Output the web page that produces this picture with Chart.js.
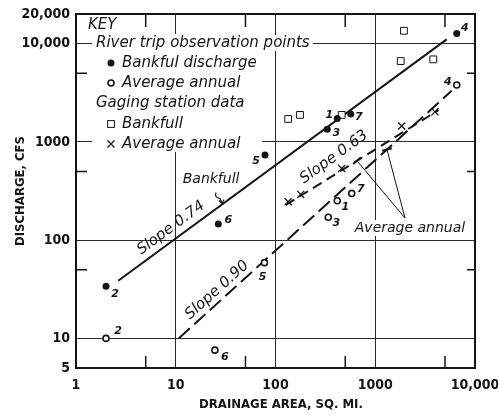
<!DOCTYPE html>
<html><head><meta charset="utf-8">
<script src="https://cdn.jsdelivr.net/npm/chart.js@4.4.1/dist/chart.umd.min.js"></script>
<style>html,body{margin:0;padding:0;background:#fff;}#wrap{width:498px;height:415px;position:relative;}</style>
</head><body><div id="wrap"><canvas id="c" width="498" height="415"></canvas></div>
<script>
// ---- data ----
const riverBankfulX = [2, 26.7, 78.5, 330, 416, 568, 6560];
const riverBankfulY = [34, 146, 734, 1340, 1730, 1920, 12700];
const riverBankfulId = ['2', '6', '5', '3', '1', '7', '4'];
const riverAvgX = [2, 24.7, 77.5, 416, 581, 338, 6560];
const riverAvgY = [10, 7.6, 59, 252, 299, 171, 3790];
const riverAvgId = ['2', '6', '5', '1', '7', '3', '4'];
const gageBankfullX = [1940, 1800, 3820, 134, 176, 461];
const gageBankfullY = [13500, 6640, 6910, 1710, 1880, 1880];
const gageAvgX = [134, 179, 461, 1840, 3970];
const gageAvgY = [246, 292, 537, 1450, 2020];
const bankfullLineX = [2.65, 5200];
const bankfullLineY = [38.6, 11040];
const avg63LineX = [127, 4300];
const avg63LineY = [228, 2100];
const avg90LineX = [10.7, 5840];
const avg90LineY = [10, 3310];
const xTicks = [1, 10, 100, 1000, 10000];
const xTickLabels = ['1', '10', '100', '1000', '10,000'];
const yTicks = [5, 10, 100, 1000, 10000, 20000];
const yTickLabels = ['5', '10', '100', '1000', '10,000', '20,000'];
const xGrid = [10, 100, 1000];
const yGrid = [10, 100, 1000, 10000];
const xMinor = [5, 50, 500, 5000];
const yMinor = [50, 500, 5000];

// ---- styles ----
const INK = '#141414';
const AXFONT = "'DejaVu Sans Condensed','Liberation Sans Narrow','DejaVu Sans'";
const ITFONT = "'DejaVu Sans'";
const riverBankfulLabelOff = [[9, 8], [10, -4], [-9, 6], [9, 4], [-8, -3], [8, 3], [8, -5]];
const riverAvgLabelOff = [[12, -7], [10, 7], [-2, 14], [8, 6], [9, -4], [8, 6], [-9, -3]];

const pts = (xs, ys) => xs.map((v, i) => ({x: v, y: ys[i]}));

function yOnLine(lx, ly, xv) {
  const a = Math.log10(lx[0]), b = Math.log10(lx[1]);
  const c = Math.log10(ly[0]), d = Math.log10(ly[1]);
  return Math.pow(10, c + (Math.log10(xv) - a) * (d - c) / (b - a));
}

const deco = {
  id: 'deco',
  beforeDatasetsDraw(chart) {
    const {ctx, chartArea: a, scales: {x, y}} = chart;
    ctx.save();
    ctx.strokeStyle = INK; ctx.lineWidth = 1.5;
    ctx.beginPath();
    xMinor.forEach(v => {
      const px = x.getPixelForValue(v);
      ctx.moveTo(px, a.bottom); ctx.lineTo(px, a.bottom - 12);
      ctx.moveTo(px, a.top); ctx.lineTo(px, a.top + 13);
    });
    yMinor.forEach(v => {
      const py = y.getPixelForValue(v);
      ctx.moveTo(a.left, py); ctx.lineTo(a.left + 11, py);
      ctx.moveTo(a.right, py); ctx.lineTo(a.right - 8, py);
    });
    ctx.stroke();
    ctx.restore();
  },
  afterDatasetsDraw(chart) {
    const {ctx, chartArea: a, scales: {x, y}} = chart;
    const P = (xv, yv) => [x.getPixelForValue(xv), y.getPixelForValue(yv)];
    ctx.save();
    ctx.fillStyle = INK; ctx.strokeStyle = INK;
    // point number labels
    ctx.font = 'italic bold 11px ' + ITFONT;
    ctx.textAlign = 'center'; ctx.textBaseline = 'middle';
    const m0 = chart.getDatasetMeta(0), m1 = chart.getDatasetMeta(1);
    m0.data.forEach((el, i) => ctx.fillText(riverBankfulId[i], el.x + riverBankfulLabelOff[i][0], el.y + riverBankfulLabelOff[i][1]));
    m1.data.forEach((el, i) => ctx.fillText(riverAvgId[i], el.x + riverAvgLabelOff[i][0], el.y + riverAvgLabelOff[i][1]));

    // slope labels along lines
    const slopeLabel = (txt, xv, yv, deg) => {
      const [px, py] = P(xv, yv);
      ctx.save(); ctx.translate(px, py); ctx.rotate(-deg * Math.PI / 180);
      ctx.font = 'italic 15px ' + ITFONT; ctx.textAlign = 'center'; ctx.textBaseline = 'middle';
      ctx.fillText(txt, 0, 0); ctx.restore();
    };
    slopeLabel('Slope 0.74', 8.96, 133, 36.5);
    slopeLabel('Slope 0.90', 25.9, 31, 42);
    slopeLabel('Slope 0.63', 386, 700, 36);

    // Bankfull note with small arrow
    ctx.font = 'italic 14px ' + ITFONT; ctx.textAlign = 'center'; ctx.textBaseline = 'middle';
    const [bx, by] = P(22.6, 419);
    ctx.fillText('Bankfull', bx, by);
    const [ex, ey] = P(29.1, yOnLine(bankfullLineX, bankfullLineY, 29.1));
    ctx.lineWidth = 1.2;
    ctx.beginPath();
    ctx.moveTo(ex - 6, ey - 12);
    ctx.quadraticCurveTo(ex - 8, ey - 7, ex - 2, ey - 6);
    ctx.lineTo(ex, ey - 1);
    ctx.stroke();
    ctx.beginPath();
    ctx.moveTo(ex - 3, ey - 4); ctx.lineTo(ex, ey - 1); ctx.lineTo(ex + 2, ey - 5);
    ctx.stroke();

    // Average annual note with leaders
    const [ax, ay] = P(2230, 133);
    const leader = (lx, ly, xv) => {
      const [tx, ty] = P(xv, yOnLine(lx, ly, xv));
      const sx = ax - 5, sy = ay - 10;
      ctx.lineWidth = 1;
      ctx.beginPath(); ctx.moveTo(sx, sy); ctx.lineTo(tx, ty); ctx.stroke();
      const ang = Math.atan2(ty - sy, tx - sx) + Math.PI / 2;
      ctx.lineWidth = 2;
      ctx.beginPath();
      ctx.moveTo(tx - 5 * Math.cos(ang), ty - 5 * Math.sin(ang));
      ctx.lineTo(tx + 5 * Math.cos(ang), ty + 5 * Math.sin(ang));
      ctx.stroke();
    };
    leader(avg63LineX, avg63LineY, 656);
    leader(avg90LineX, avg90LineY, 1310);
    ctx.font = 'italic 14px ' + ITFONT;
    const aw = ctx.measureText('Average annual').width;
    ctx.fillStyle = '#fff'; ctx.fillRect(ax - aw / 2 - 2, ay - 8, aw + 4, 16);
    ctx.fillStyle = INK; ctx.fillText('Average annual', ax, ay);

    // KEY
    const L = a.left, T = a.top;
    ctx.fillStyle = '#fff';
    ctx.fillRect(L + 16, T + 20, 170, 118);
    ctx.font = 'italic 15px ' + ITFONT;
    const rw = ctx.measureText('River trip observation points').width;
    ctx.fillRect(L + 17, T + 21, rw + 6, 16);
    ctx.fillStyle = INK; ctx.textAlign = 'left'; ctx.textBaseline = 'middle';
    ctx.fillText('KEY', L + 12, T + 11);
    ctx.fillText('River trip observation points', L + 20, T + 29);
    ctx.fillText('Bankful discharge', L + 46, T + 49);
    ctx.fillText('Average annual', L + 46, T + 69);
    ctx.fillText('Gaging station data', L + 20, T + 89);
    ctx.fillText('Bankfull', L + 46, T + 110);
    ctx.fillText('Average annual', L + 46, T + 130);
    const mx = L + 35;
    ctx.beginPath(); ctx.arc(mx, T + 49, 3.5, 0, 2 * Math.PI); ctx.fill();
    ctx.lineWidth = 1.6;
    ctx.beginPath(); ctx.arc(mx, T + 69, 3, 0, 2 * Math.PI); ctx.stroke();
    ctx.lineWidth = 1;
    ctx.strokeRect(mx - 3.4, T + 110 - 3.4, 6.8, 6.8);
    ctx.lineWidth = 1.2;
    ctx.beginPath();
    ctx.moveTo(mx - 3.5, T + 126.5); ctx.lineTo(mx + 3.5, T + 133.5);
    ctx.moveTo(mx + 3.5, T + 126.5); ctx.lineTo(mx - 3.5, T + 133.5);
    ctx.stroke();
    ctx.restore();
  },
  afterDraw(chart) {
    const {ctx, chartArea: a} = chart;
    ctx.save();
    ctx.strokeStyle = INK; ctx.lineWidth = 2;
    ctx.strokeRect(a.left, a.top, a.right - a.left, a.bottom - a.top);
    ctx.fillStyle = INK;
    ctx.font = 'bold 13px ' + AXFONT;
    ctx.textAlign = 'center'; ctx.textBaseline = 'middle';
    ctx.fillText('DRAINAGE AREA, SQ. MI.', 281, 405);
    ctx.translate(21, (a.top + a.bottom) / 2);
    ctx.rotate(-Math.PI / 2);
    ctx.fillText('DISCHARGE, CFS', 0, 0);
    ctx.restore();
  }
};

const lineDs = (xs, ys, dash) => ({
  type: 'scatter', data: pts(xs, ys), showLine: true, pointRadius: 0,
  borderColor: INK, borderWidth: 2, borderDash: dash, fill: false
});

new Chart(document.getElementById('c'), {
  type: 'scatter',
  data: {
    datasets: [
      {label: 'Bankful discharge', data: pts(riverBankfulX, riverBankfulY), pointStyle: 'circle', pointRadius: 3.5, backgroundColor: INK, borderColor: INK, borderWidth: 0},
      {label: 'Average annual', data: pts(riverAvgX, riverAvgY), pointStyle: 'circle', pointRadius: 3, backgroundColor: '#fff', borderColor: INK, borderWidth: 1.6},
      {label: 'Gaging Bankfull', data: pts(gageBankfullX, gageBankfullY), pointStyle: 'rect', pointRadius: 4.8, backgroundColor: '#fff', borderColor: INK, borderWidth: 1},
      {label: 'Gaging Average annual', data: pts(gageAvgX, gageAvgY), pointStyle: 'crossRot', pointRadius: 5, borderColor: INK, borderWidth: 1.3},
      lineDs(bankfullLineX, bankfullLineY, []),
      lineDs(avg63LineX, avg63LineY, [10, 6]),
      lineDs(avg90LineX, avg90LineY, [15, 6])
    ]
  },
  options: {
    responsive: false, animation: false, events: [],
    layout: {padding: {top: 14, right: 23, bottom: 0, left: 0}},
    plugins: {legend: {display: false}, tooltip: {enabled: false}},
    scales: {
      x: {
        type: 'logarithmic', min: 1, max: 10000, position: 'bottom',
        afterBuildTicks: s => { s.ticks = xTicks.map(v => ({value: v})); },
        afterFit: s => { s.height = 47; s.paddingLeft = 0; s.paddingRight = 0; },
        ticks: {callback: (v, i) => xTickLabels[i], autoSkip: false, maxRotation: 0, padding: 9, color: INK, font: {family: AXFONT, weight: 'bold', size: 14}},
        grid: {drawTicks: false, lineWidth: 1, color: c => (c.tick && xGrid.includes(c.tick.value)) ? '#2a2a2a' : 'rgba(0,0,0,0)'},
        border: {display: false}
      },
      y: {
        type: 'logarithmic', min: 5, max: 20000, position: 'left',
        afterBuildTicks: s => { s.ticks = yTicks.map(v => ({value: v})); },
        afterFit: s => { s.width = 76; s.paddingTop = 0; s.paddingBottom = 0; },
        ticks: {callback: (v, i) => yTickLabels[i], autoSkip: false, padding: 6, color: INK, font: {family: AXFONT, weight: 'bold', size: 14}},
        grid: {drawTicks: false, lineWidth: 1, color: c => (c.tick && yGrid.includes(c.tick.value)) ? '#2a2a2a' : 'rgba(0,0,0,0)'},
        border: {display: false}
      }
    }
  },
  plugins: [deco]
});
</script>
</body></html>
